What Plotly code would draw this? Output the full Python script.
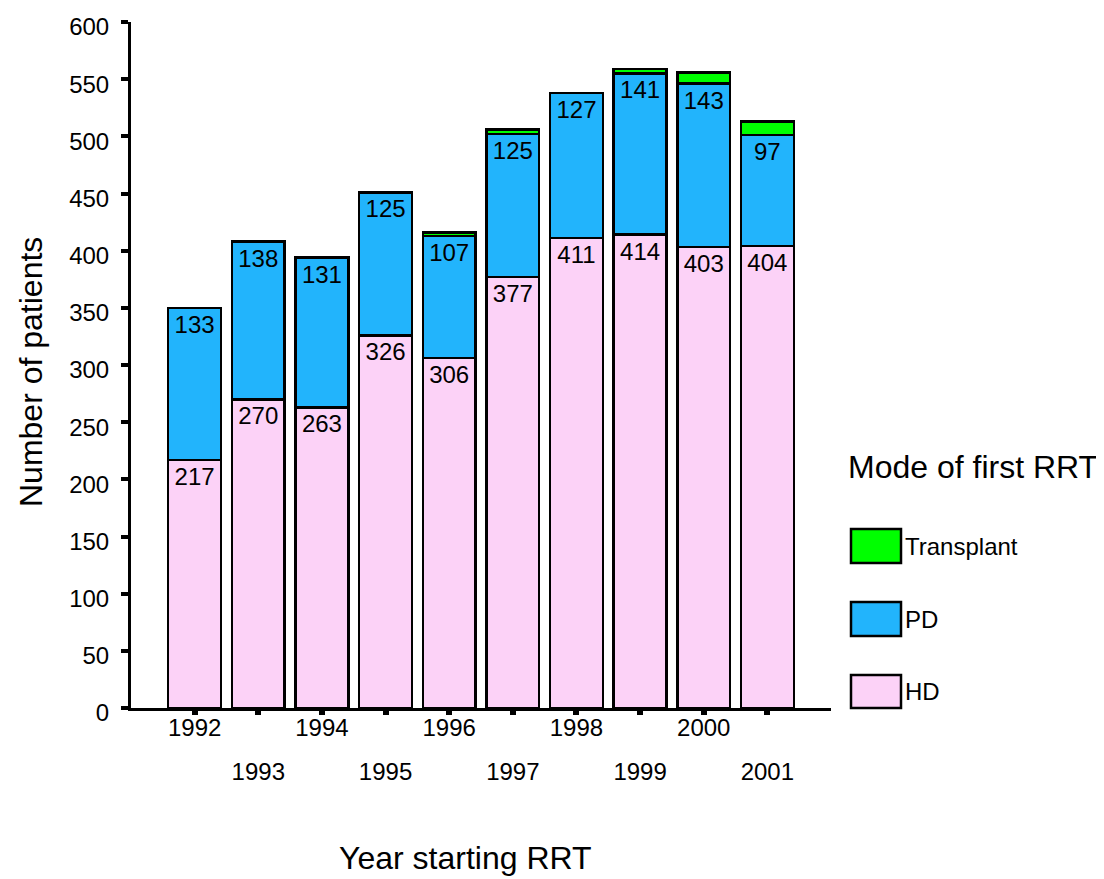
import plotly.graph_objects as go

years = [1992, 1993, 1994, 1995, 1996, 1997, 1998, 1999, 2000, 2001]
hd = [217, 270, 263, 326, 306, 377, 411, 414, 403, 404]
pd_vals = [133, 138, 131, 125, 107, 125, 127, 141, 143, 97]
transplant = [0, 0, 0, 0, 3, 4, 0, 4, 10, 12]

series_names = ["HD", "PD", "Transplant"]
series_colors = ["#FCD2F7", "#22B4FC", "#00FF00"]

y_ticks = [0, 50, 100, 150, 200, 250, 300, 350, 400, 450, 500, 550, 600]
even_years = [y for y in years if y % 2 == 0]
odd_years = [y for y in years if y % 2 == 1]

x_title = "Year starting RRT"
y_title = "Number of patients"
legend_title = "Mode of first RRT"

FONT = "Liberation Sans, Arial, sans-serif"

fig = go.Figure()
fig.add_trace(go.Bar(
    x=years, y=hd, name="HD", marker=dict(color=series_colors[0], line=dict(color="black", width=2.5)),
    text=[str(v) for v in hd], textposition="inside", insidetextanchor="end", textangle=0,
    textfont=dict(size=24, color="black", family=FONT), width=0.83, showlegend=False))
fig.add_trace(go.Bar(
    x=years, y=pd_vals, name="PD", marker=dict(color=series_colors[1], line=dict(color="black", width=2.5)),
    text=[str(v) for v in pd_vals], textposition="inside", insidetextanchor="end", textangle=0,
    textfont=dict(size=24, color="black", family=FONT), width=0.83, showlegend=False))
fig.add_trace(go.Bar(
    x=years, y=transplant, name="Transplant", marker=dict(color=series_colors[2], line=dict(color="black", width=2.5)),
    width=0.83, showlegend=False, textposition="none"))

# page has an 8px body margin; compensate so the plot area lands at page px (131..831, 22..708)
OFF = 8
PL, PT, PR, PB = 131, 22, 831, 708
W, H = 1104 - OFF, 879 - OFF
L, T = PL - OFF, PT - OFF
pw, ph = PR - PL, PB - PT
R, B = W - L - pw, H - T - ph

def px_x(p):
    return (p - PL) / pw

def px_y(p):
    return (PB - p) / ph

# manual legend
shapes = []
annotations = []
legend_items = [("Transplant", series_colors[2], 529, 563),
                ("PD", series_colors[1], 602, 636),
                ("HD", series_colors[0], 675, 708)]
for name, col, y0, y1 in legend_items:
    shapes.append(dict(type="rect", xref="paper", yref="paper",
                       x0=px_x(851), x1=px_x(901), y0=px_y(y1), y1=px_y(y0),
                       fillcolor=col, line=dict(color="black", width=2.5)))
    annotations.append(dict(xref="paper", yref="paper", x=px_x(903), y=px_y((y0 + y1) / 2),
                            text=name, showarrow=False, xanchor="left", yanchor="middle",
                            font=dict(size=24, color="black", family=FONT)))
annotations.append(dict(xref="paper", yref="paper", x=px_x(973), y=px_y(467),
                        text=legend_title, showarrow=False, xanchor="center", yanchor="middle",
                        font=dict(size=32, color="black", family=FONT)))
# axis titles
annotations.append(dict(xref="paper", yref="paper", x=px_x(465), y=px_y(858),
                        text=x_title, showarrow=False, xanchor="center", yanchor="middle",
                        font=dict(size=32, color="black", family=FONT)))
annotations.append(dict(xref="paper", yref="paper", x=px_x(31), y=px_y(372),
                        text=y_title, showarrow=False, xanchor="center", yanchor="middle",
                        textangle=-90, font=dict(size=32, color="black", family=FONT)))

fig.update_layout(
    barmode="stack",
    width=W, height=H,
    margin=dict(l=L, r=R, t=T, b=B, pad=0, autoexpand=False),
    paper_bgcolor="white", plot_bgcolor="white",
    font=dict(family=FONT, color="black"),
    shapes=shapes, annotations=annotations,
    xaxis=dict(range=[1991, 2002], tickmode="array", tickvals=years,
               ticktext=[str(y) if y % 2 == 0 else "" for y in years],
               ticks="outside", ticklen=4, tickwidth=6, tickcolor="black",
               showline=True, linecolor="black", linewidth=3,
               showgrid=False, zeroline=False, automargin=False,
               ticklabelstandoff=-8,
               tickfont=dict(size=24, color="black", family=FONT)),
    xaxis2=dict(range=[1991, 2002], overlaying="x", anchor="y", side="bottom",
                tickmode="array", tickvals=odd_years, ticktext=[str(y) for y in odd_years],
                ticks="", showline=False, showgrid=False, zeroline=False, automargin=False,
                ticklabelstandoff=47,
                tickfont=dict(size=24, color="black", family=FONT)),
    yaxis=dict(range=[0, 600], tickmode="array", tickvals=y_ticks,
               ticks="outside", ticklen=7, tickwidth=4, tickcolor="black",
               showline=True, linecolor="black", linewidth=3,
               showgrid=False, zeroline=False, automargin=False,
               ticklabelstandoff=7, ticklabelshift=5,
               tickfont=dict(size=24, color="black", family=FONT)),
)
# invisible helper trace to activate the second x axis (odd-year labels row)
fig.add_trace(go.Scatter(x=[years[0]], y=[0], xaxis="x2", yaxis="y", mode="markers",
                         marker=dict(opacity=0), showlegend=False, hoverinfo="skip"))

fig.write_html("out.html")
